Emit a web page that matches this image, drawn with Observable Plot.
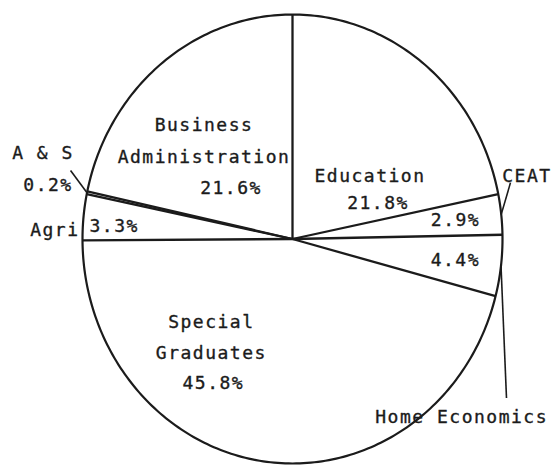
<!DOCTYPE html>
<html><head><meta charset="utf-8">
<script src="https://cdn.jsdelivr.net/npm/d3@7"></script>
<script src="https://cdn.jsdelivr.net/npm/@observablehq/plot@0.6"></script>
<style>
html,body{margin:0;padding:0;background:#fff;}
#chart svg text{letter-spacing:1.5px;}
</style></head><body><div id="chart"></div>
<script>
// ---- data (clockwise from 12 o'clock) ----
const categories = ["Education","CEAT","Home Economics","Special Graduates","Agri","A & S","Business Administration"];
const shares = [21.8, 2.9, 4.4, 45.8, 3.3, 0.2, 21.6];
const pctLabels = ["21.8%","2.9%","4.4%","45.8%","3.3%","0.2%","21.6%"];
const nameLabels = ["Education","CEAT","Home Economics","Special\nGraduates","Agri","A & S","Business\nAdministration"];

// ---- label layout (styling only): radius along slice mid-angle + pixel nudges ----
const nameLayout = [
  {r:0.35, dx:31, dy:-6, anchor:"middle"},
  {r:1, dx:1, dy:-42, anchor:"start"},
  {r:1, dx:47, dy:147, anchor:"end"},
  {r:0.5, dx:-68, dy:-17, anchor:"middle"},
  {r:1, dx:-4, dy:9, anchor:"end"},
  {r:1, dx:-44, dy:-44, anchor:"middle"},
  {r:0.55, dx:-16, dy:-6, anchor:"middle"}
];
const pctLayout = [
  {r:0.35, dx:39, dy:25, anchor:"middle"},
  {r:0.8, dx:-4, dy:1, anchor:"middle"},
  {r:0.8, dx:-4, dy:0, anchor:"middle"},
  {r:0.5, dx:-66, dy:33, anchor:"middle"},
  {r:1, dx:6, dy:9, anchor:"start"},
  {r:1, dx:-39, dy:-8, anchor:"middle"},
  {r:0.55, dx:11, dy:45, anchor:"middle"}
];
// leader lines: from slice rim (mid-angle) to an outer polar point
const leaderCats = ["CEAT","Home Economics","A & S"];
const leaderR = [1.068, 1.241, 1.1];
const leaderAngle = [76.4, 124.8, 286.1];

// ---- geometry from data ----
const rad = d => d * Math.PI / 180;
const px = (r, deg) => r * Math.sin(rad(deg));
const py = (r, deg) => r * Math.cos(rad(deg));
const total = d3.sum(shares);
let acc = 0;
const slices = categories.map((c, i) => {
  const a0 = acc / total * 360; acc += shares[i];
  const a1 = acc / total * 360;
  return {i, category: c, a0, a1, mid: (a0 + a1) / 2};
});
const ring = d3.range(0, 361, 1);
const leaders = leaderCats.map((c, k) => {
  const s = slices.find(d => d.category === c);
  return {mid: s.mid, r: leaderR[k], angle: leaderAngle[k]};
});

const ink = "#1b1b1b";
const font = "'DejaVu Sans Mono', 'Liberation Mono', monospace";
const textMarks = [];
slices.forEach(s => {
  const n = nameLayout[s.i], p = pctLayout[s.i];
  textMarks.push(Plot.text([s], {
    x: d => px(n.r, d.mid), y: d => py(n.r, d.mid), text: d => nameLabels[d.i],
    dx: n.dx, dy: n.dy, textAnchor: n.anchor, lineHeight: 1.75,
    fontSize: 18, fontFamily: font, fill: ink, stroke: ink, strokeWidth: 0.35
  }));
  textMarks.push(Plot.text([s], {
    x: d => px(p.r, d.mid), y: d => py(p.r, d.mid), text: d => pctLabels[d.i],
    dx: p.dx, dy: p.dy, textAnchor: p.anchor,
    fontSize: 18, fontFamily: font, fill: ink, stroke: ink, strokeWidth: 0.35
  }));
});

const chart = Plot.plot({
  width: 552, height: 466,
  marginLeft: 82, marginRight: 50, marginTop: 14, marginBottom: 3,
  x: {domain: [-1, 1], axis: null},
  y: {domain: [-1, 1], axis: null},
  style: {fontFamily: font, fontSize: "18px", background: "#fff", overflow: "visible"},
  marks: [
    Plot.line(ring, {x: a => px(1, a), y: a => py(1, a), stroke: ink, strokeWidth: 2.2}),
    Plot.link(slices, {x1: () => 0, y1: () => 0, x2: d => px(1, d.a0), y2: d => py(1, d.a0), stroke: ink, strokeWidth: 2.3}),
    Plot.link(leaders, {x1: d => px(1, d.mid), y1: d => py(1, d.mid), x2: d => px(d.r, d.angle), y2: d => py(d.r, d.angle), stroke: ink, strokeWidth: 1.6}),
    ...textMarks
  ]
});
document.getElementById("chart").appendChild(chart);
</script></body></html>
